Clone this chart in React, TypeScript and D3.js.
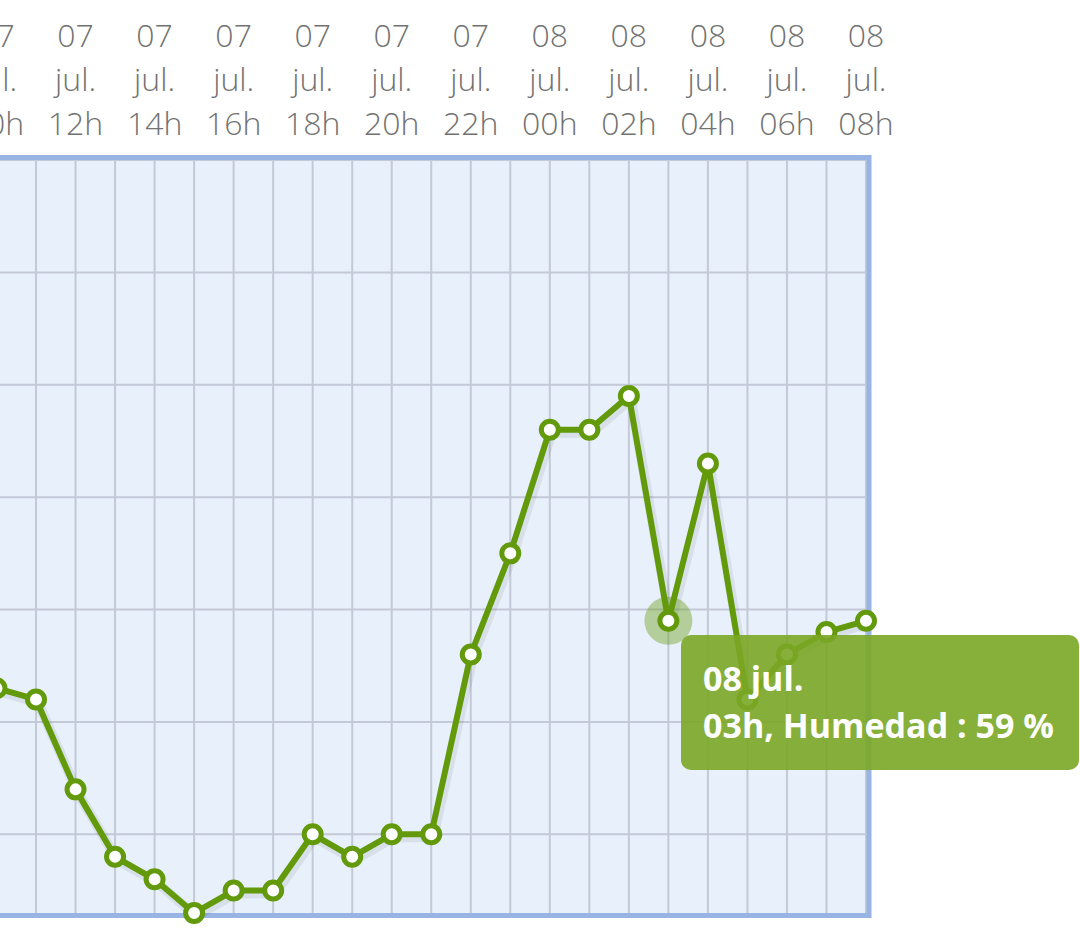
import React from "react";
import * as d3 from "d3";

// Data: hourly relative humidity, 07 jul 10h -> 08 jul 08h
const times: string[] = [
  "2024-07-07T10:00", "2024-07-07T11:00", "2024-07-07T12:00", "2024-07-07T13:00",
  "2024-07-07T14:00", "2024-07-07T15:00", "2024-07-07T16:00", "2024-07-07T17:00",
  "2024-07-07T18:00", "2024-07-07T19:00", "2024-07-07T20:00", "2024-07-07T21:00",
  "2024-07-07T22:00", "2024-07-07T23:00", "2024-07-08T00:00", "2024-07-08T01:00",
  "2024-07-08T02:00", "2024-07-08T03:00", "2024-07-08T04:00", "2024-07-08T05:00",
  "2024-07-08T06:00", "2024-07-08T07:00", "2024-07-08T08:00",
];
const humidity: number[] = [
  53, 52, 44, 38, 36, 33, 35, 35, 40, 38, 40, 40, 56, 65, 76, 76, 79, 59, 73, 52, 56, 58, 59,
];
const yTicks: number[] = [40, 50, 60, 70, 80, 90, 100];
const monthLabel = "jul.";
const seriesName = "Humedad";
const hoverIndex = 17;

const W = 1080;
const H = 944;

export default function App() {
  const dates = times.map((t) => new Date(t));
  const x = d3
    .scaleTime()
    .domain([dates[0], dates[dates.length - 1]])
    .range([-3.5, 866]);
  const y = d3.scaleLinear().domain([33, 100]).range([913, 160]);

  const hourTicks = x.ticks(d3.timeHour.every(1)!);
  const labelTicks = x.ticks(d3.timeHour.every(2)!);
  const fmtDay = d3.timeFormat("%d");
  const fmtHour = d3.timeFormat("%Hh");

  const pts = dates.map((d, i) => [x(d), y(humidity[i])] as [number, number]);
  const line = d3.line();
  const path = line(pts) || "";

  const hp = pts[hoverIndex];
  const hd = dates[hoverIndex];

  const green = "#639a0c";
  const plotLeft = -60;
  const plotRight = 869;
  const plotTop = 157.5;
  const plotBottom = 915.5;

  return (
    <svg
      width={W}
      height={H}
      style={{ position: "absolute", left: 0, top: 0, background: "#fff" }}
    >
      <rect
        x={plotLeft}
        y={plotTop}
        width={plotRight - plotLeft}
        height={plotBottom - plotTop}
        fill="#e8f0fb"
      />
      {hourTicks.map((t, i) => (
        <line
          key={"v" + i}
          x1={x(t)}
          x2={x(t)}
          y1={plotTop}
          y2={plotBottom}
          stroke="#c3c9d6"
          strokeWidth={2}
        />
      ))}
      {yTicks.map((v, i) => (
        <line
          key={"h" + i}
          x1={plotLeft}
          x2={plotRight}
          y1={y(v)}
          y2={y(v)}
          stroke="#c3c9d6"
          strokeWidth={2}
        />
      ))}
      <rect
        x={plotLeft}
        y={plotTop}
        width={plotRight - plotLeft}
        height={plotBottom - plotTop}
        fill="none"
        stroke="#98b4e4"
        strokeWidth={5}
      />
      {labelTicks.map((t, i) => (
        <text
          key={"l" + i}
          x={x(t)}
          textAnchor="middle"
          fill="#727272"
          fontFamily="'Open Sans', sans-serif"
          fontWeight={300}
          fontSize={32}
        >
          <tspan x={x(t)} y={47}>{fmtDay(t)}</tspan>
          <tspan x={x(t)} y={91}>{monthLabel}</tspan>
          <tspan x={x(t)} y={135}>{fmtHour(t)}</tspan>
        </text>
      ))}
      {/* shadow */}
      <path
        d={path}
        transform="translate(2,3)"
        fill="none"
        stroke="rgba(0,0,0,0.07)"
        strokeWidth={10}
        strokeLinejoin="round"
      />
      <path d={path} fill="none" stroke={green} strokeWidth={6} strokeLinejoin="round" />
      <circle cx={hp[0]} cy={hp[1]} r={24} fill={green} opacity={0.4} />
      {pts.map((p, i) => (
        <circle
          key={"p" + i}
          cx={p[0]}
          cy={p[1]}
          r={8.5}
          fill="#fff"
          stroke={green}
          strokeWidth={5}
        />
      ))}
      <g>
        <rect x={681} y={635} width={398} height={135} rx={10} fill="#7aa725" opacity={0.9} />
        <text
          fill="#fff"
          fontFamily="'Open Sans', sans-serif"
          fontWeight={700}
          fontSize={34}
        >
          <tspan x={703} y={691}>{fmtDay(hd) + " " + monthLabel}</tspan>
          <tspan x={703} y={738}>
            {fmtHour(hd) + ", " + seriesName + " : " + humidity[hoverIndex] + " %"}
          </tspan>
        </text>
      </g>
    </svg>
  );
}
